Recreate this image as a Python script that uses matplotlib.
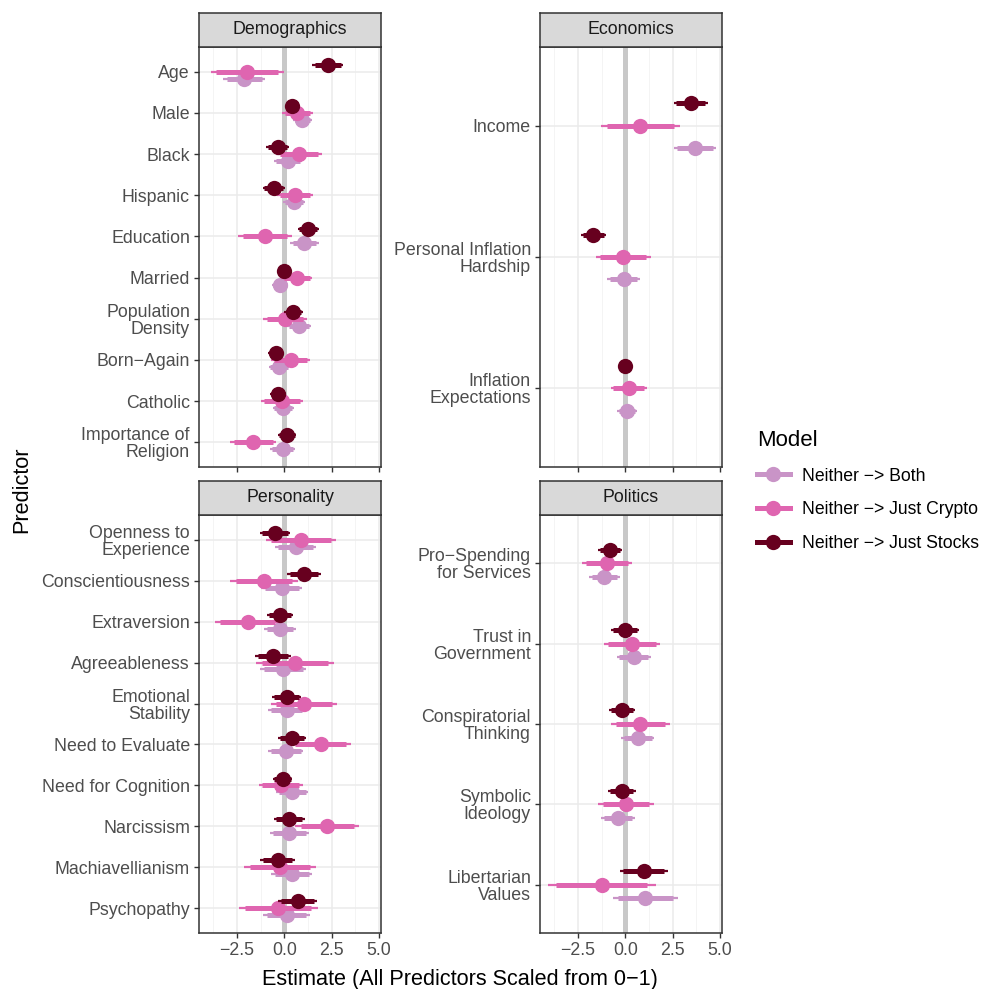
# coefficient plot: predictors of investing in crypto / stocks, 4 facets
import matplotlib.pyplot as plt
from matplotlib.lines import Line2D

plt.rcParams['font.family'] = ['Liberation Sans', 'DejaVu Sans']

M = '\u2212'
models = ['Neither ' + M + '> Both', 'Neither ' + M + '> Just Crypto', 'Neither ' + M + '> Just Stocks']
colors = ['#C994C7', '#DF65B0', '#67001F']

# ---- Demographics ----
demo_labels = ['Age', 'Male', 'Black', 'Hispanic', 'Education', 'Married',
               'Population\nDensity', 'Born' + M + 'Again', 'Catholic', 'Importance of\nReligion']
demo_both_est = [-2.11, 0.95, 0.21, 0.51, 1.06, -0.23, 0.79, -0.28, -0.05, -0.09]
demo_both_se = [0.57, 0.25, 0.38, 0.29, 0.38, 0.22, 0.32, 0.28, 0.29, 0.34]
demo_crypto_est = [-1.95, 0.69, 0.77, 0.56, -1.02, 0.65, 0.04, 0.33, -0.11, -1.64]
demo_crypto_se = [0.99, 0.41, 0.61, 0.48, 0.72, 0.42, 0.59, 0.53, 0.57, 0.62]
demo_stocks_est = [2.29, 0.40, -0.35, -0.56, 1.27, -0.02, 0.48, -0.46, -0.32, 0.14]
demo_stocks_se = [0.41, 0.18, 0.31, 0.30, 0.29, 0.16, 0.25, 0.20, 0.22, 0.25]

# ---- Economics ----
econ_labels = ['Income', 'Personal Inflation\nHardship', 'Inflation\nExpectations']
econ_both_est = [3.67, -0.09, 0.09]
econ_both_se = [0.57, 0.44, 0.27]
econ_crypto_est = [0.80, -0.12, 0.18]
econ_crypto_se = [1.07, 0.74, 0.49]
econ_stocks_est = [3.45, -1.68, -0.04]
econ_stocks_se = [0.46, 0.33, 0.16]

# ---- Personality ----
pers_labels = ['Openness to\nExperience', 'Conscientiousness', 'Extraversion', 'Agreeableness',
               'Emotional\nStability', 'Need to Evaluate', 'Need for Cognition', 'Narcissism',
               'Machiavellianism', 'Psychopathy']
pers_both_est = [0.60, -0.14, -0.23, -0.05, 0.12, 0.07, 0.42, 0.26, 0.39, 0.12]
pers_both_se = [0.56, 0.55, 0.43, 0.62, 0.49, 0.48, 0.43, 0.53, 0.55, 0.63]
pers_crypto_est = [0.88, -1.07, -1.94, 0.56, 1.04, 1.92, -0.18, 2.27, -0.23, -0.32]
pers_crypto_se = [0.95, 0.91, 0.87, 1.05, 0.89, 0.82, 0.59, 0.86, 0.97, 1.06]
pers_stocks_est = [-0.49, 1.04, -0.23, -0.58, 0.12, 0.42, -0.09, 0.26, -0.35, 0.70]
pers_stocks_se = [0.41, 0.45, 0.34, 0.48, 0.40, 0.38, 0.26, 0.42, 0.47, 0.53]

# ---- Politics ----
pol_labels = ['Pro' + M + 'Spending\nfor Services', 'Trust in\nGovernment', 'Conspiratorial\nThinking',
              'Symbolic\nIdeology', 'Libertarian\nValues']
pol_both_est = [-1.10, 0.44, 0.65, -0.39, 1.06]
pol_both_se = [0.41, 0.46, 0.45, 0.46, 0.88]
pol_crypto_est = [-0.97, 0.35, 0.80, 0.04, -1.24]
pol_crypto_se = [0.67, 0.76, 0.79, 0.75, 1.46]
pol_stocks_est = [-0.80, 0.00, -0.18, -0.18, 0.97]
pol_stocks_se = [0.32, 0.38, 0.34, 0.37, 0.65]

xticks = [-2.5, 0.0, 2.5, 5.0]
xtick_labels = [M + '2.5', '0.0', '2.5', '5.0']

W, H = 982, 989
fig = plt.figure(figsize=(W / 100, H / 100), dpi=100)


def panel(x0, top, bottom, strip_top, title, labels, ests, ses, show_x):
    ax = fig.add_axes([x0 / W, 1 - bottom / H, 182 / W, (bottom - top) / H])
    n = len(labels)
    ax.set_xlim(-4.5, 5.1)
    ax.set_ylim(n - 1 + 0.6, -0.6)
    # grid
    for v in [-3.75, -1.25, 1.25, 3.75]:
        ax.axvline(v, color='#F2F2F2', lw=0.6, zorder=0)
    for v in xticks:
        ax.axvline(v, color='#EBEBEB', lw=1.1, zorder=0)
    for i in range(n):
        ax.axhline(i, color='#EBEBEB', lw=1.1, zorder=0)
    ax.axvline(0, color='#C8C8C8', lw=3.6, zorder=1)
    offsets = [0.17, 0.0, -0.17]
    for k in range(3):
        for i in range(n):
            y = i + offsets[k]
            e, s = ests[k][i], ses[k][i]
            ax.plot([e - 1.96 * s, e + 1.96 * s], [y, y], color=colors[k], lw=1.6,
                    solid_capstyle='butt', zorder=2 + k)
            ax.plot([e - 1.645 * s, e + 1.645 * s], [y, y], color=colors[k], lw=3.6,
                    solid_capstyle='butt', zorder=2 + k)
            ax.plot(e, y, 'o', color=colors[k], ms=11, mew=0, zorder=2 + k)
    ax.set_yticks(range(n))
    ax.set_yticklabels(labels, fontsize=12.8, color='#4D4D4D', linespacing=1.0,
                       multialignment='right')
    ax.set_xticks(xticks)
    if show_x:
        ax.set_xticklabels(xtick_labels, fontsize=12.8, color='#4D4D4D')
    else:
        ax.set_xticklabels([])
    ax.tick_params(axis='both', length=3.5, width=1, color='#333333', pad=3)
    for sp in ax.spines.values():
        sp.set_color('#333333')
        sp.set_linewidth(1.1)
    # strip
    sax = fig.add_axes([x0 / W, 1 - top / H, 182 / W, (top - strip_top) / H])
    sax.set_facecolor('#D9D9D9')
    sax.set_xticks([])
    sax.set_yticks([])
    for sp in sax.spines.values():
        sp.set_color('#333333')
        sp.set_linewidth(1.1)
    sax.text(0.5, 0.5, title, ha='center', va='center', fontsize=12.8, color='#1A1A1A',
             transform=sax.transAxes)
    return ax


panel(199, 47, 467, 13, 'Demographics', demo_labels,
      [demo_both_est, demo_crypto_est, demo_stocks_est],
      [demo_both_se, demo_crypto_se, demo_stocks_se], False)
panel(540, 47, 467, 13, 'Economics', econ_labels,
      [econ_both_est, econ_crypto_est, econ_stocks_est],
      [econ_both_se, econ_crypto_se, econ_stocks_se], False)
panel(199, 515, 933, 481, 'Personality', pers_labels,
      [pers_both_est, pers_crypto_est, pers_stocks_est],
      [pers_both_se, pers_crypto_se, pers_stocks_se], True)
panel(540, 515, 933, 481, 'Politics', pol_labels,
      [pol_both_est, pol_crypto_est, pol_stocks_est],
      [pol_both_se, pol_crypto_se, pol_stocks_se], True)

fig.text(460 / W, 1 - 980 / H, 'Estimate (All Predictors Scaled from 0' + M + '1)',
         ha='center', va='center', fontsize=15.6)
fig.text(22 / W, 1 - 490 / H, 'Predictor', ha='center', va='center', rotation=90, fontsize=15.6)

handles = [Line2D([], [], color=c, lw=3.6, marker='o', ms=11, mew=0) for c in colors]
leg = fig.legend(handles, models, loc='upper left', bbox_to_anchor=(741 / W, 1 - 414 / H),
                 frameon=False, fontsize=12.7, title='Model', title_fontsize=16,
                 handlelength=1.85, labelspacing=0.95, alignment='left', handletextpad=0.7)

fig.savefig('out.png', dpi=100)
